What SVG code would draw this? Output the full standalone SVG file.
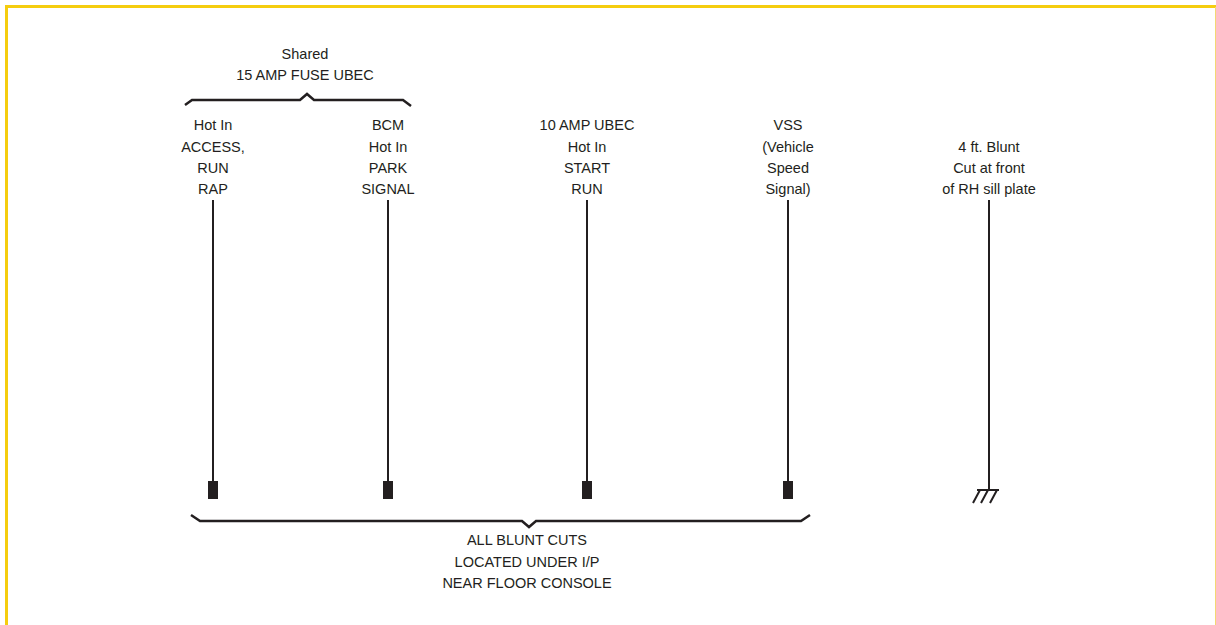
<svg xmlns="http://www.w3.org/2000/svg" width="1216" height="625" viewBox="0 0 1216 625">
<style>
text{font-family:"Liberation Sans",Arial,sans-serif;font-size:14.5px;fill:#231f20;text-anchor:middle}
.w{stroke:#231f20;stroke-width:2;fill:none}
.b{stroke:#231f20;stroke-width:2.5;fill:none;stroke-linejoin:miter}
.cut{fill:#231f20}
</style>
<rect width="1216" height="625" fill="#ffffff"/>
<g id="border">
<line x1="5" y1="6.5" x2="1216" y2="6.5" stroke="#f5cd0f" stroke-width="3"/>
<line x1="6.5" y1="5" x2="6.5" y2="625" stroke="#f5cd0f" stroke-width="3"/>
<line x1="1215.5" y1="7" x2="1215.5" y2="625" stroke="#f3d873" stroke-width="1"/>
</g>
<g id="shared-label">
<text x="305" y="59">Shared</text>
<text x="305" y="80">15 AMP FUSE UBEC</text>
<path class="b" d="M185,105 L192,100 L300,100 L307,94 L314,100 L403,100 L411,106"/>
</g>
<g id="node-rap">
<text x="213" y="130">Hot In</text>
<text x="213" y="151.5">ACCESS,</text>
<text x="213" y="173">RUN</text>
<text x="213" y="194">RAP</text>
<rect class="cut" x="208" y="481" width="10" height="18"/>
</g>
<g id="node-bcm">
<text x="388" y="130">BCM</text>
<text x="388" y="151.5">Hot In</text>
<text x="388" y="173">PARK</text>
<text x="388" y="194">SIGNAL</text>
<rect class="cut" x="383" y="481" width="10" height="18"/>
</g>
<g id="node-ubec10">
<text x="587" y="130">10 AMP UBEC</text>
<text x="587" y="151.5">Hot In</text>
<text x="587" y="173">START</text>
<text x="587" y="194">RUN</text>
<rect class="cut" x="582" y="481" width="10" height="18"/>
</g>
<g id="node-vss">
<text x="788" y="130">VSS</text>
<text x="788" y="151.5">(Vehicle</text>
<text x="788" y="173">Speed</text>
<text x="788" y="194">Signal)</text>
<rect class="cut" x="783" y="481" width="10" height="18"/>
</g>
<g id="node-ground">
<text x="989" y="151.5">4 ft. Blunt</text>
<text x="989" y="173">Cut at front</text>
<text x="989" y="194">of RH sill plate</text>
<path class="w" d="M977,490 L999,490 M980,490 L973,503 M988,490 L981,503 M997,490 L990,503" stroke-width="1.3"/>
</g>
<g id="blunt-cuts-label">
<path class="b" d="M191,515 L200,521 L522,521 L529,527 L536,521 L801,521 L810,515"/>
<text x="527" y="545">ALL BLUNT CUTS</text>
<text x="527" y="567">LOCATED UNDER I/P</text>
<text x="527" y="588">NEAR FLOOR CONSOLE</text>
</g>
<g id="connectors">
<line class="w" x1="213" y1="200" x2="213" y2="482"/>
<line class="w" x1="388" y1="200" x2="388" y2="482"/>
<line class="w" x1="587" y1="200" x2="587" y2="482"/>
<line class="w" x1="788" y1="200" x2="788" y2="482"/>
<line class="w" x1="989" y1="200" x2="989" y2="490"/>
</g>
</svg>
